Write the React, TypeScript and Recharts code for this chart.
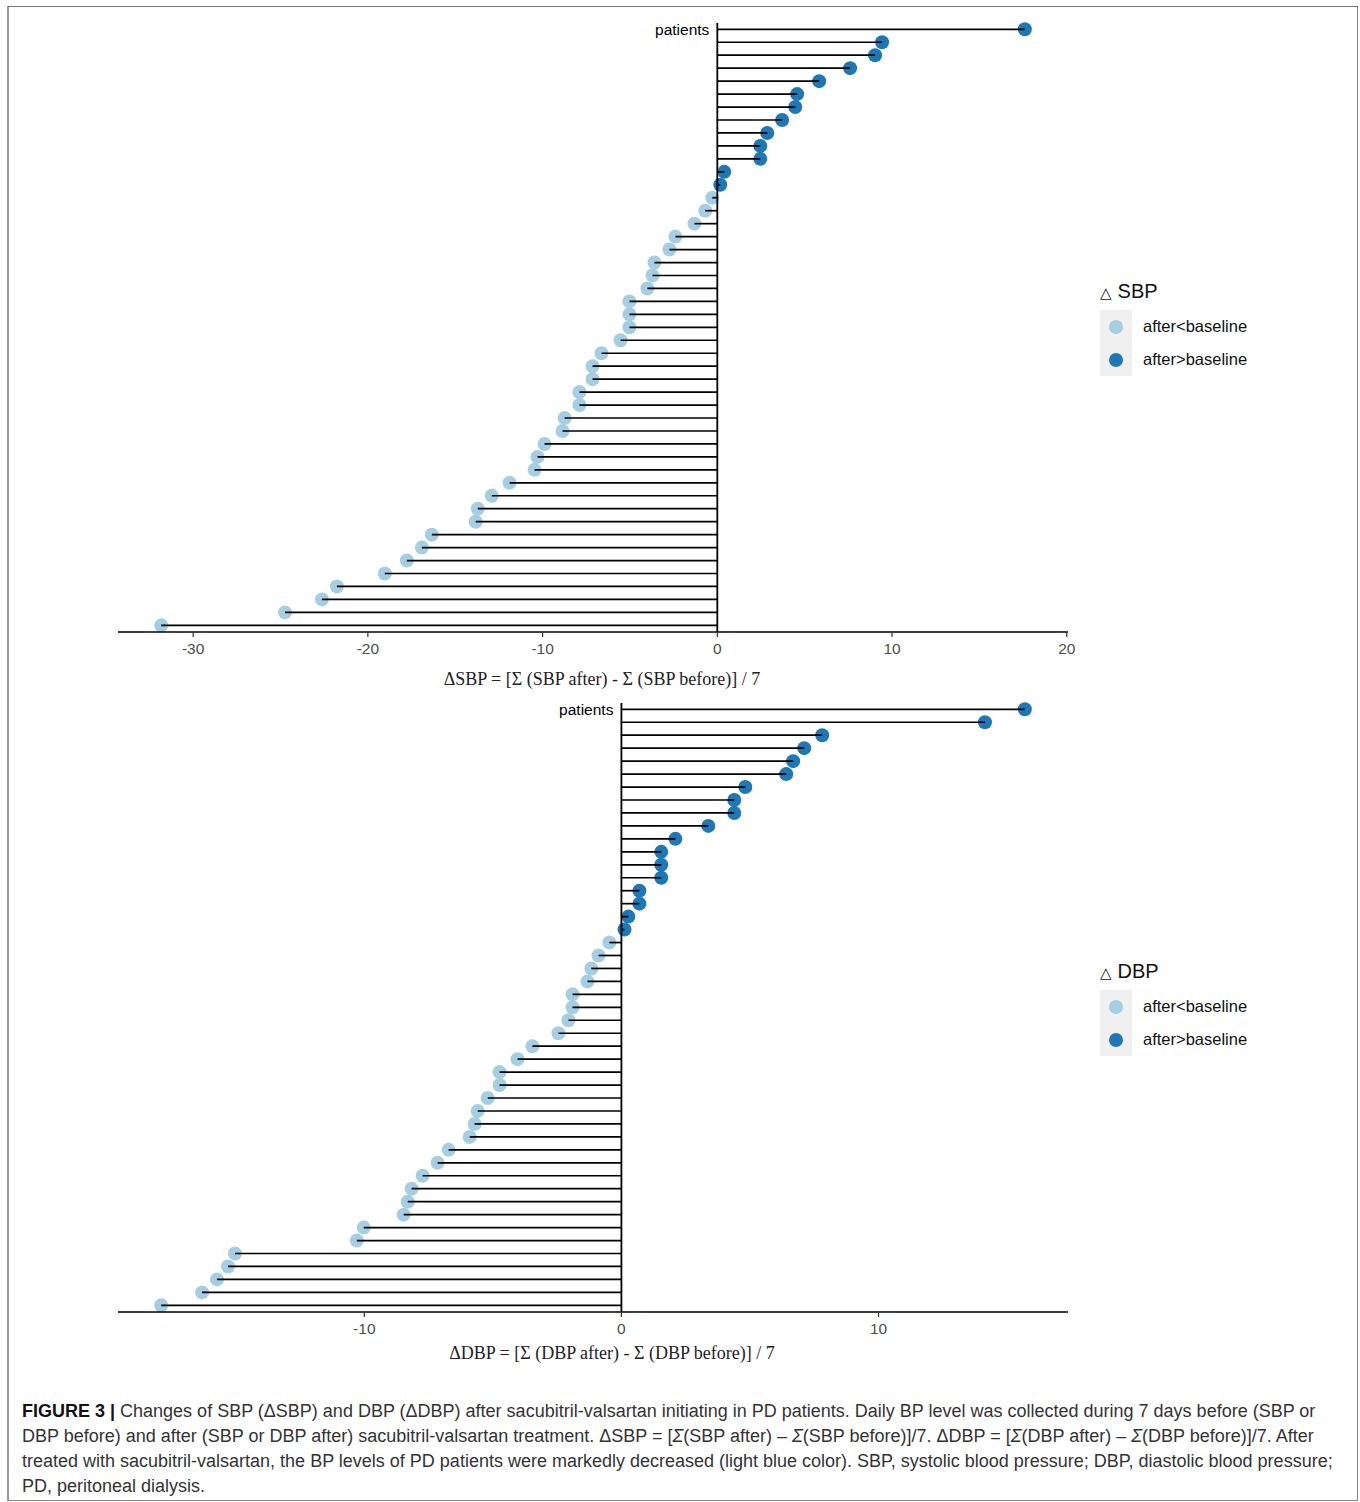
import React from 'react';
import { ComposedChart, Bar, XAxis, YAxis, ReferenceLine } from 'recharts';

// mean daily change per patient, sorted from largest rise to largest drop
const sbpChange = [
  17.6, 9.43, 9.03, 7.6, 5.83, 4.57, 4.46, 3.71, 2.86, 2.46, 2.46, 0.4, 0.17,
  -0.29, -0.69, -1.31, -2.4, -2.74, -3.6, -3.71, -4.0, -5.03, -5.03, -5.03, -5.54,
  -6.63, -7.14, -7.14, -7.89, -7.89, -8.74, -8.86, -9.89, -10.29, -10.46, -11.89,
  -12.91, -13.71, -13.83, -16.34, -16.91, -17.77, -19.03, -21.77, -22.63, -24.74, -31.83,
];

const dbpChange = [
  15.69, 14.14, 7.81, 7.11, 6.68, 6.41, 4.82, 4.39, 4.39, 3.38, 2.1, 1.55, 1.55,
  1.55, 0.7, 0.7, 0.27, 0.12, -0.47, -0.89, -1.17, -1.32, -1.9, -1.9, -2.06,
  -2.45, -3.46, -4.04, -4.74, -4.74, -5.2, -5.59, -5.71, -5.9, -6.72, -7.15,
  -7.73, -8.16, -8.31, -8.47, -10.02, -10.29, -15.03, -15.3, -15.73, -16.31, -17.9,
];

const sbpTicks = [-30, -20, -10, 0, 10, 20];
const dbpTicks = [-10, 0, 10];
const legendLabels = ['after<baseline', 'after>baseline'];

const LIGHT = '#a6cee3';
const DARK = '#1f78b4';
const SANS = '"Liberation Sans", Arial, sans-serif';
const SERIF = '"Liberation Serif", "Times New Roman", serif';

const toRows = (values: number[]) => values.map((value, i) => ({ id: `P${i + 1}`, value }));

// ggplot-like 5% expansion around the data range
const expand = (values: number[]): [number, number] => {
  const lo = Math.min(...values);
  const hi = Math.max(...values);
  const pad = (hi - lo) * 0.05;
  return [lo - pad, hi + pad];
};

const Lollipop = (props: any) => {
  const { x, y, width, height, payload } = props;
  const cy = y + height / 2;
  const a = x;
  const b = x + width;
  const positive = payload.value > 0;
  const end = positive ? Math.max(a, b) : Math.min(a, b);
  const base = positive ? Math.min(a, b) : Math.max(a, b);
  return (
    <g>
      <circle cx={end} cy={cy} r={7} fill={positive ? DARK : LIGHT} />
      <line x1={base} x2={end} y1={cy} y2={cy} stroke="#000" strokeWidth={1.7} />
    </g>
  );
};

const patientsLabel = (p: any) => {
  const vb = p.viewBox || {};
  return (
    <text x={vb.x - 8} y={vb.y + 12} textAnchor="end" fontSize={15.5} fontFamily={SANS} fill="#000">
      patients
    </text>
  );
};

interface PanelProps {
  values: number[];
  ticks: number[];
  title: string;
  top: number;
  marginTop: number;
  titleDx: number;
  titleOffset: number;
}

function LollipopPanel({ values, ticks, title, top, marginTop, titleDx, titleOffset }: PanelProps) {
  return (
    <div style={{ position: 'absolute', left: 0, top }}>
      <ComposedChart
        layout="vertical"
        width={1100}
        height={700}
        data={toRows(values)}
        margin={{ top: marginTop, right: 32, left: 118, bottom: 700 - 60 - 609 - marginTop }}
      >
        <XAxis
          type="number"
          dataKey="value"
          domain={expand(values)}
          ticks={ticks}
          allowDataOverflow
          height={60}
          axisLine={{ stroke: '#000', strokeWidth: 1.6 }}
          tickLine={{ stroke: '#333', strokeWidth: 1.2 }}
          tickSize={5}
          tickMargin={6}
          tick={{ fill: '#4d4d4d', fontSize: 15.5, fontFamily: SANS }}
          label={{
            value: title,
            position: 'insideBottom',
            offset: titleOffset,
            dx: titleDx,
            fill: '#222',
            fontSize: 18,
            fontFamily: SERIF,
          }}
        />
        <YAxis type="category" dataKey="id" hide />
        <Bar dataKey="value" shape={Lollipop} isAnimationActive={false} />
        <ReferenceLine x={0} stroke="#000" strokeWidth={1.8} label={patientsLabel} />
      </ComposedChart>
    </div>
  );
}

function LegendBlock({ title, top }: { title: string; top: number }) {
  return (
    <div style={{ position: 'absolute', left: 1100, top, fontFamily: SANS }}>
      <div style={{ fontSize: 20, color: '#111', height: 34, lineHeight: '30px' }}>
        <span style={{ fontSize: 15 }}>△</span> {title}
      </div>
      {legendLabels.map((label, i) => (
        <div key={label} style={{ display: 'flex', alignItems: 'center', height: 33 }}>
          <div
            style={{
              width: 32,
              height: 33,
              background: '#f0f0f0',
              display: 'flex',
              alignItems: 'center',
              justifyContent: 'center',
            }}
          >
            <div style={{ width: 14, height: 14, borderRadius: 7, background: i === 0 ? LIGHT : DARK }} />
          </div>
          <span style={{ marginLeft: 11, fontSize: 16.5, color: '#111' }}>{label}</span>
        </div>
      ))}
    </div>
  );
}

export default function App() {
  const captionLine = { whiteSpace: 'nowrap' as const, height: 25, lineHeight: '25px' };
  return (
    <div style={{ position: 'absolute', left: 0, top: 0, width: 1360, height: 1502, background: '#fff' }}>
      <div
        style={{
          position: 'absolute',
          left: 7,
          top: 6,
          width: 1348,
          height: 1493,
          borderTop: '1px solid #777',
          borderRight: '1px solid #888',
          borderBottom: '1px solid #888',
          borderLeft: '2px solid #999',
        }}
      />
      <LollipopPanel
        values={sbpChange}
        ticks={sbpTicks}
        title="ΔSBP = [Σ (SBP after) - Σ (SBP before)] / 7"
        top={0}
        marginTop={23}
        titleDx={9}
        titleOffset={7}
      />
      <LollipopPanel
        values={dbpChange}
        ticks={dbpTicks}
        title="ΔDBP = [Σ (DBP after) - Σ (DBP before)] / 7"
        top={695}
        marginTop={8}
        titleDx={19}
        titleOffset={13}
      />
      <LegendBlock title="SBP" top={276} />
      <LegendBlock title="DBP" top={956} />
      <div
        style={{
          position: 'absolute',
          left: 22,
          top: 1399,
          fontFamily: SANS,
          fontSize: 18,
          color: '#333',
        }}
      >
        <div style={captionLine}>
          <b style={{ color: '#111' }}>FIGURE 3 |</b> Changes of SBP (ΔSBP) and DBP (ΔDBP) after sacubitril-valsartan
          initiating in PD patients. Daily BP level was collected during 7 days before (SBP or
        </div>
        <div style={captionLine}>
          DBP before) and after (SBP or DBP after) sacubitril-valsartan treatment. ΔSBP = [<i>Σ</i>(SBP after) –{' '}
          <i>Σ</i>(SBP before)]/7. ΔDBP = [<i>Σ</i>(DBP after) – <i>Σ</i>(DBP before)]/7. After
        </div>
        <div style={captionLine}>
          treated with sacubitril-valsartan, the BP levels of PD patients were markedly decreased (light blue color).
          SBP, systolic blood pressure; DBP, diastolic blood pressure;
        </div>
        <div style={captionLine}>PD, peritoneal dialysis.</div>
      </div>
    </div>
  );
}
